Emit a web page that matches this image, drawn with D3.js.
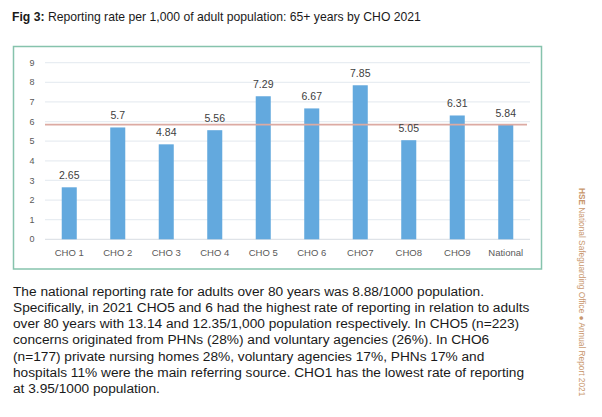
<!DOCTYPE html>
<html>
<head>
<meta charset="utf-8">
<script src="https://cdn.jsdelivr.net/npm/d3@7"></script>
<style>
  body { margin: 0; background: #fff; }
  svg { display: block; }
</style>
</head>
<body>
<svg id="chart"></svg>
<script>
const categories = ["CHO 1", "CHO 2", "CHO 3", "CHO 4", "CHO 5", "CHO 6", "CHO7", "CHO8", "CHO9", "National"];
const rates = [2.65, 5.7, 4.84, 5.56, 7.29, 6.67, 7.85, 5.05, 6.31, 5.84];
const rateLabels = ["2.65", "5.7", "4.84", "5.56", "7.29", "6.67", "7.85", "5.05", "6.31", "5.84"];
const nationalRate = 5.84;
const yTicks = [0, 1, 2, 3, 4, 5, 6, 7, 8, 9];
const paragraph = [
    "The national reporting rate for adults over 80 years was 8.88/1000 population.",
    "Specifically, in 2021 CHO5 and 6 had the highest rate of reporting in relation to adults",
    "over 80 years with 13.14 and 12.35/1,000 population respectively. In CHO5 (n=223)",
    "concerns originated from PHNs (28%) and voluntary agencies (26%). In CHO6",
    "(n=177) private nursing homes 28%, voluntary agencies 17%, PHNs 17% and",
    "hospitals 11% were the main referring source.  CHO1 has the lowest rate of reporting",
    "at 3.95/1000 population."
];

const width = 602;
const height = 417;

const svg = d3.select("#chart")
    .attr("width", width)
    .attr("height", height);

// title
const title = svg.append("text")
    .attr("x", 12)
    .attr("y", 21)
    .style("font-family", "Liberation Sans, Arial, sans-serif")
    .style("font-size", "12.2px")
    .style("fill", "#1a1a1a");
title.append("tspan").style("font-weight", "bold").text("Fig 3:");
title.append("tspan").text(" Reporting rate per 1,000 of adult population: 65+ years by CHO 2021");

// chart frame
svg.append("rect")
    .attr("x", 13.5)
    .attr("y", 46.5)
    .attr("width", 528)
    .attr("height", 222.5)
    .attr("fill", "none")
    .attr("stroke", "#86c3ad")
    .attr("stroke-width", 1.5);

const x = d3.scaleBand()
    .domain(categories)
    .range([45, 530])
    .paddingInner(0.69)
    .paddingOuter(0.345);

const y = d3.scaleLinear()
    .domain([0, 9])
    .range([239.3, 62.7]);

// gridlines
svg.append("g")
    .selectAll("line")
    .data(yTicks)
    .join("line")
    .attr("x1", 45)
    .attr("x2", 530)
    .attr("y1", d => y(d))
    .attr("y2", d => y(d))
    .attr("stroke", d => d === 0 ? "#dfe3e8" : "#e8edf2")
    .attr("stroke-width", 1.2);

// y axis labels
svg.append("g")
    .selectAll("text")
    .data(yTicks)
    .join("text")
    .attr("x", 32)
    .attr("y", d => y(d))
    .attr("dy", "0.35em")
    .attr("text-anchor", "middle")
    .style("font-family", "Liberation Sans, Arial, sans-serif")
    .style("font-size", "9px")
    .style("fill", "#595959")
    .text(d => d);

// bars
svg.append("g")
    .selectAll("rect")
    .data(rates)
    .join("rect")
    .attr("x", (d, i) => x(categories[i]))
    .attr("width", x.bandwidth())
    .attr("y", d => y(d))
    .attr("height", d => y(0) - y(d))
    .attr("fill", "#63a9de");

// national average line
svg.append("line")
    .attr("x1", 45)
    .attr("x2", 527)
    .attr("y1", y(nationalRate))
    .attr("y2", y(nationalRate))
    .attr("stroke", "#dcaaa2")
    .attr("stroke-width", 1.8);

// value labels
svg.append("g")
    .selectAll("text")
    .data(rates)
    .join("text")
    .attr("x", (d, i) => x(categories[i]) + x.bandwidth() / 2)
    .attr("y", d => y(d) - 8)
    .attr("text-anchor", "middle")
    .style("font-family", "Liberation Sans, Arial, sans-serif")
    .style("font-size", "10.5px")
    .style("fill", "#404040")
    .text((d, i) => rateLabels[i]);

// category labels
svg.append("g")
    .selectAll("text")
    .data(categories)
    .join("text")
    .attr("x", d => x(d) + x.bandwidth() / 2)
    .attr("y", 255.5)
    .attr("text-anchor", "middle")
    .style("font-family", "Liberation Sans, Arial, sans-serif")
    .style("font-size", "9.5px")
    .style("fill", "#595959")
    .text(d => d);

// paragraph
svg.append("g")
    .selectAll("text")
    .data(paragraph)
    .join("text")
    .attr("x", 13)
    .attr("y", (d, i) => 295.5 + i * 16.3)
    .style("font-family", "Liberation Sans, Arial, sans-serif")
    .style("font-size", "13.7px")
    .style("fill", "#1a1a1a")
    .text(d => d);

// side footer
const side = svg.append("text")
    .attr("transform", "translate(579,188) rotate(90)")
    .style("font-family", "Liberation Sans, Arial, sans-serif")
    .style("font-size", "8.3px")
    .style("fill", "#c8966c");
side.append("tspan").style("font-weight", "bold").text("HSE");
side.append("tspan").text(" National Safeguarding Office \u25CF Annual Report 2021");
</script>
</body>
</html>
